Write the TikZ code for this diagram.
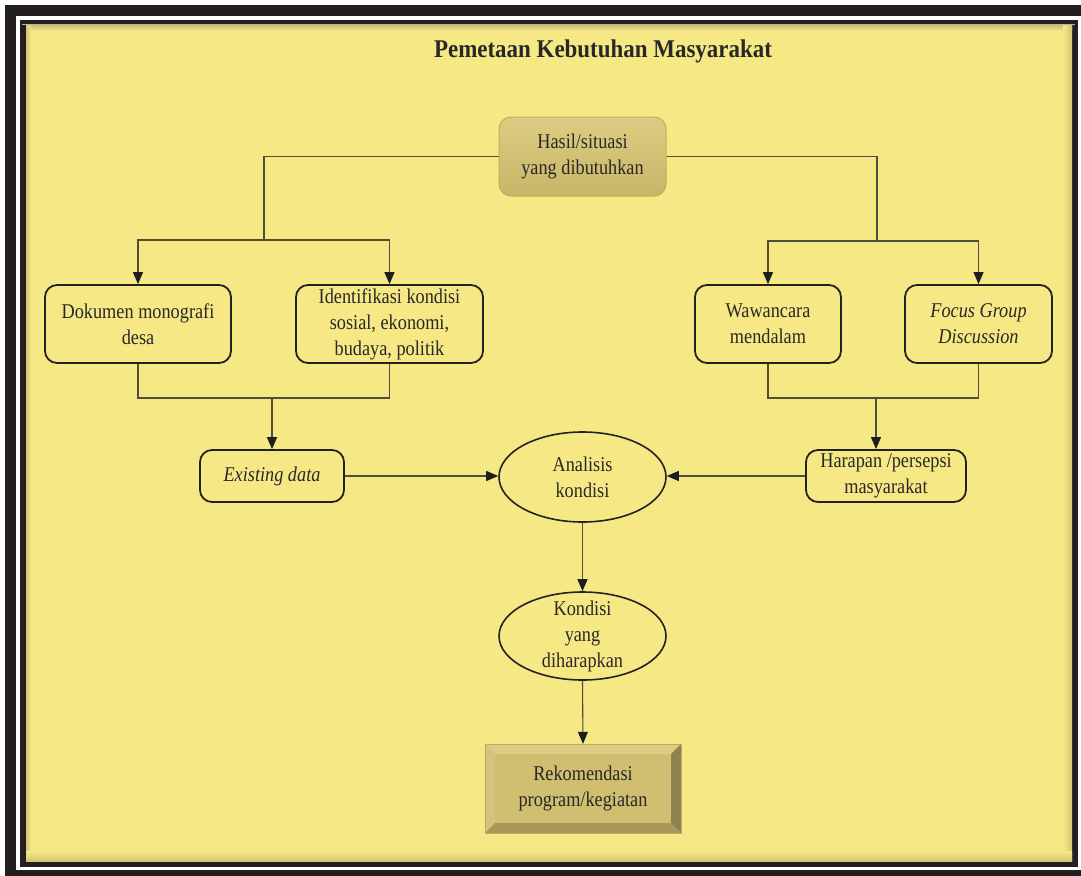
\documentclass[tikz,border=0pt]{standalone}
\usepackage{fontspec}
\setmainfont{Liberation Serif}
\newfontfamily\boxfont[FakeStretch=0.87]{Liberation Serif}
\newfontfamily\titlefont[FakeStretch=0.9]{Liberation Serif}
\usetikzlibrary{arrows.meta,shapes.geometric,calc}
\definecolor{bgyellow}{RGB}{247,232,134}
\definecolor{framebk}{RGB}{35,31,32}
\definecolor{shadowc}{RGB}{212,197,112}
\definecolor{txt}{RGB}{40,40,38}
\definecolor{linec}{RGB}{80,76,62}
\definecolor{boxc}{RGB}{34,34,34}
\definecolor{arrc}{RGB}{30,30,30}
\definecolor{topA}{RGB}{221,205,130}
\definecolor{topB}{RGB}{200,182,104}
\definecolor{topD}{RGB}{190,172,98}
\definecolor{bevT}{RGB}{221,205,132}
\definecolor{bevL}{RGB}{212,195,122}
\definecolor{bevR}{RGB}{142,131,80}
\definecolor{bevB}{RGB}{168,152,90}
\definecolor{bevF}{RGB}{208,191,112}
\tikzset{
  boxtext/.style={align=center, text=txt, inner sep=0pt, font=\boxfont\fontsize{21}{26}\selectfont},
  box/.style={boxtext, draw=boxc, line width=1.8pt, rounded corners=12pt, fill=bgyellow},
  oval/.style={ellipse, draw=boxc, line width=1.6pt, fill=bgyellow, inner sep=0pt},
  conn/.style={draw=linec, line width=1.1pt},
  arr/.style={conn, -{Triangle[length=12pt,width=10pt,color=arrc]}},
}
\begin{document}
\begin{tikzpicture}[x=1pt,y=-1pt]
\useasboundingbox (0,0) rectangle (1081,875);
\fill[white] (0,0) rectangle (1081,875);
% frame
\draw[framebk, line width=11pt] (10.5,10.5) rectangle (1086.5,875.5);
\draw[framebk, line width=6pt] (23,23) rectangle (1074.5,863.5);
\fill[bgyellow] (26,26) rectangle (1072,861);
\shade[top color=shadowc, bottom color=bgyellow] (26,26) rectangle (1072,31);
\shade[left color=shadowc, right color=bgyellow] (26,26) rectangle (31,861);
\shade[left color=bgyellow, right color=shadowc] (1063,26) rectangle (1072,861);
\shade[top color=bgyellow, bottom color=shadowc] (26,851) rectangle (1072,861);
\draw[gray!60, line width=0.8pt] (22,24.5) -- (1075,24.5);

% title
\node[text=txt, font=\titlefont\bfseries\fontsize{25.5}{30}\selectfont] (title) at (603,51) {Pemetaan Kebutuhan Masyarakat};

% nodes
\node[boxtext, draw=topD, line width=1pt, rounded corners=12pt, top color=topA, bottom color=topB,
      minimum width=167pt, minimum height=79pt] (top) at (582.5,156.5) {Hasil/situasi\\yang dibutuhkan};
\node[box, minimum width=186pt, minimum height=78pt] (dok) at (138,324) {Dokumen monografi\\desa};
\node[box, minimum width=187pt, minimum height=78pt] (ident) at (389.5,324) {Identifikasi kondisi\\sosial, ekonomi,\\budaya, politik};
\node[box, minimum width=146pt, minimum height=78pt] (waw) at (768,324) {Wawancara\\mendalam};
\node[box, minimum width=147pt, minimum height=78pt] (fgd) at (978.5,324) {\itshape Focus Group\\\itshape Discussion};
\node[box, minimum width=144pt, minimum height=52pt] (exist) at (272,476) {\itshape Existing data};
\node[box, minimum width=160pt, minimum height=52pt] (harap) at (886,476) {Harapan /persepsi\\masyarakat};
\node[oval, minimum width=167pt, minimum height=90pt] (anal) at (582.5,477) {};
\node[boxtext] (analt) at (anal.center) {Analisis\\kondisi};
\node[oval, minimum width=167pt, minimum height=88pt] (kond) at (582.5,636) {};
\node[boxtext] (kondt) at (kond.center) {Kondisi\\yang\\diharapkan};
\node[boxtext, fill=bevF, minimum width=196pt, minimum height=89pt] (rek) at (583,788.5) {};
\fill[bevT] (rek.north west) -- (rek.north east) -- ($(rek.north east)+(-10,10)$) -- ($(rek.north west)+(10,10)$) -- cycle;
\fill[bevL] (rek.north west) -- (rek.south west) -- ($(rek.south west)+(10,-10)$) -- ($(rek.north west)+(10,10)$) -- cycle;
\fill[bevR] (rek.north east) -- (rek.south east) -- ($(rek.south east)+(-10,-10)$) -- ($(rek.north east)+(-10,10)$) -- cycle;
\fill[bevB] (rek.south west) -- (rek.south east) -- ($(rek.south east)+(-10,-10)$) -- ($(rek.south west)+(10,-10)$) -- cycle;
\draw[topD, line width=0.6pt] (rek.north west) rectangle (rek.south east);
\node[boxtext] (rekt) at (rek.center) {Rekomendasi\\program/kegiatan};

% connectors
\coordinate (jl) at (264,240);
\coordinate (jr) at (877,241);
\draw[conn] (top.west) -| (jl);
\draw[arr] (jl) -| (dok.north);
\draw[arr] (jl) -| (ident.north);
\draw[conn] (top.east) -| (jr);
\draw[arr] (jr) -| (waw.north);
\draw[arr] (jr) -| (fgd.north);

\coordinate (bl) at (272,398);
\coordinate (br) at (876,398);
\draw[conn] (dok.south) |- (bl);
\draw[conn] (ident.south) |- (bl);
\draw[arr] (bl) -- (exist.north);
\draw[conn] (waw.south) |- (br);
\draw[conn] (fgd.south) |- (br);
\draw[arr] (br) -- (br |- harap.north);

\draw[arr] (exist.east) -- (exist.east -| anal.west);
\draw[arr] (harap.west) -- (harap.west -| anal.east);
\draw[arr] (anal.south) -- (kond.north);
\draw[arr] (kond.south) -- (rek.north);
\end{tikzpicture}
\end{document}
